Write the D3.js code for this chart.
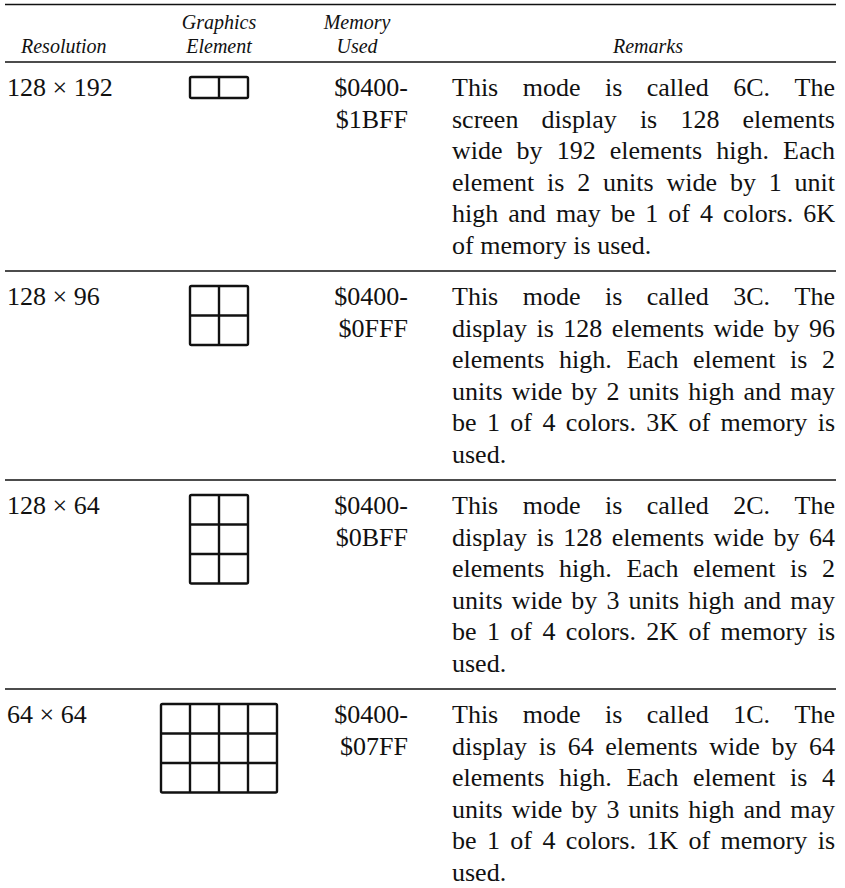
<!DOCTYPE html>
<html><head><meta charset="utf-8">
<script src="https://cdn.jsdelivr.net/npm/d3@7"></script>
<style>html,body{margin:0;padding:0;background:#fff;}svg{display:block;}</style>
</head><body>
<script>
// ---- data ----
const headersTop = ["", "Graphics", "Memory", ""];
const headersBottom = ["Resolution", "Element", "Used", "Remarks"];
const resolutions = ["128 × 192", "128 × 96", "128 × 64", "64 × 64"];
const elementCols = [2, 2, 2, 4];
const elementRows = [1, 2, 3, 3];
const memoryStart = ["$0400-", "$0400-", "$0400-", "$0400-"];
const memoryEnd = ["$1BFF", "$0FFF", "$0BFF", "$07FF"];
const remarks1 = ["This mode is called 6C. The", "screen display is 128 elements", "wide by 192 elements high. Each", "element is 2 units wide by 1 unit", "high and may be 1 of 4 colors. 6K", "of memory is used."];
const remarks2 = ["This mode is called 3C. The", "display is 128 elements wide by 96", "elements high. Each element is 2", "units wide by 2 units high and may", "be 1 of 4 colors. 3K of memory is", "used."];
const remarks3 = ["This mode is called 2C. The", "display is 128 elements wide by 64", "elements high. Each element is 2", "units wide by 3 units high and may", "be 1 of 4 colors. 2K of memory is", "used."];
const remarks4 = ["This mode is called 1C. The", "display is 64 elements wide by 64", "elements high. Each element is 4", "units wide by 3 units high and may", "be 1 of 4 colors. 1K of memory is", "used."];
const remarks = [remarks1, remarks2, remarks3, remarks4];

// ---- layout ----
const W = 845, H = 888;
const ink = "#111";
const serif = "'Liberation Serif','DejaVu Serif',serif";
const bodySize = 26, headSize = 20;
const ruleX0 = 5, ruleX1 = 836;
const headRuleY = 62, rowPitch = 209;
const lineGap = 31.6;
const remX0 = 452, remX1 = 835;

const svg = d3.select("body").append("svg").attr("width", W).attr("height", H)
  .style("background", "#fff");

const y = d3.scaleBand().domain(d3.range(resolutions.length))
  .range([headRuleY, headRuleY + rowPitch * resolutions.length]).paddingInner(0);

// column anchors
const colX = [21, 219, 357, 648];

// top rule
svg.append("line").attr("x1", ruleX0).attr("x2", ruleX1).attr("y1", 4.5).attr("y2", 4.5)
  .attr("stroke", ink).attr("stroke-width", 1.6);
// header rule
svg.append("line").attr("x1", ruleX0).attr("x2", ruleX1).attr("y1", headRuleY).attr("y2", headRuleY)
  .attr("stroke", ink).attr("stroke-width", 1.4);

// headers
const hdr = svg.append("g").attr("font-family", serif).attr("font-style", "italic")
  .attr("font-size", headSize).attr("fill", ink);
headersTop.forEach((t, i) => {
  if (!t) return;
  hdr.append("text").attr("x", colX[i]).attr("y", 29).attr("text-anchor", "middle").text(t);
});
headersBottom.forEach((t, i) => {
  hdr.append("text").attr("x", colX[i]).attr("y", 53)
    .attr("text-anchor", i === 0 ? "start" : "middle").text(t);
});

// measuring helper
const meas = svg.append("text").attr("font-family", serif).attr("font-size", bodySize)
  .attr("visibility", "hidden");
function wordWidth(w) { meas.text(w); return meas.node().getComputedTextLength(); }

const body = svg.append("g").attr("font-family", serif).attr("font-size", bodySize).attr("fill", ink);

resolutions.forEach((res, i) => {
  const top = y(i);
  if (i > 0) {
    svg.append("line").attr("x1", ruleX0).attr("x2", ruleX1).attr("y1", top).attr("y2", top)
      .attr("stroke", ink).attr("stroke-width", 1.4);
  }
  const base0 = top + 34;
  body.append("text").attr("x", 7).attr("y", base0).text(res);
  body.append("text").attr("x", 408).attr("y", base0).attr("text-anchor", "end").text(memoryStart[i]);
  body.append("text").attr("x", 408).attr("y", base0 + lineGap).attr("text-anchor", "end")
    .text(memoryEnd[i]);

  // graphics element grid
  const nc = elementCols[i], nr = elementRows[i];
  const cw = 29, ch = nr === 1 ? 21 : 29.5;
  const gx = d3.scaleLinear().domain([0, nc]).range([colX[1] - nc * cw / 2, colX[1] + nc * cw / 2]);
  const gy = d3.scaleLinear().domain([0, nr]).range([top + 15, top + 15 + nr * ch]);
  const g = svg.append("g").attr("stroke", ink).attr("stroke-width", 2.4).attr("fill", "none");
  g.append("rect").attr("x", gx(0)).attr("y", gy(0)).attr("width", gx(nc) - gx(0))
    .attr("height", gy(nr) - gy(0)).attr("rx", 1.5);
  d3.range(1, nc).forEach(c => g.append("line").attr("x1", gx(c)).attr("x2", gx(c))
    .attr("y1", gy(0)).attr("y2", gy(nr)));
  d3.range(1, nr).forEach(r => g.append("line").attr("x1", gx(0)).attr("x2", gx(nc))
    .attr("y1", gy(r)).attr("y2", gy(r)));

  // remarks, justified
  const lines = remarks[i];
  const spaceW = wordWidth("a a") - wordWidth("aa");
  lines.forEach((ln, k) => {
    const by = base0 + k * lineGap;
    const words = ln.split(" ");
    const widths = words.map(wordWidth);
    const last = k === lines.length - 1;
    const gap = last || words.length < 2 ? spaceW :
      (remX1 - remX0 - d3.sum(widths)) / (words.length - 1);
    let x = remX0;
    words.forEach((w, j) => {
      body.append("text").attr("x", x).attr("y", by).text(w);
      x += widths[j] + gap;
    });
  });
});
meas.remove();
</script>
</body></html>
